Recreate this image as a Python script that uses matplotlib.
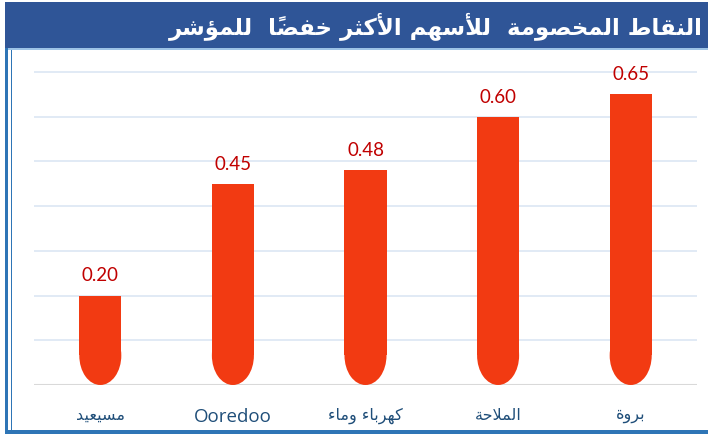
import matplotlib
matplotlib.use("Agg")
import matplotlib.pyplot as plt
from matplotlib.patches import Rectangle, Ellipse

# data
labels = ["مسيعيد", "Ooredoo", "كهرباء وماء", "الملاحة", "بروة"]
values = [0.20, 0.45, 0.48, 0.60, 0.65]
title = "النقاط المخصومة  للأسهم الأكثر خفضاً  للمؤشر"

BAR = "#F23A12"
VAL = "#C00000"
LBL = "#1F4E79"
BANNER = "#2F5597"
FRAME = "#2E75B6"
GRID = "#DCE6F4"

# minimal arabic shaping (matplotlib has no text shaping)
ISO = {'ء': 0xFE80, 'أ': 0xFE83, 'ؤ': 0xFE85, 'ا': 0xFE8D, 'ب': 0xFE8F, 'ة': 0xFE93,
       'ت': 0xFE95, 'ث': 0xFE99, 'ح': 0xFEA1, 'خ': 0xFEA5, 'د': 0xFEA9, 'ر': 0xFEAD,
       'س': 0xFEB1, 'ش': 0xFEB5, 'ص': 0xFEB9, 'ض': 0xFEBD, 'ط': 0xFEC1, 'ع': 0xFEC9,
       'ف': 0xFED1, 'ق': 0xFED5, 'ك': 0xFED9, 'ل': 0xFEDD, 'م': 0xFEE1, 'ن': 0xFEE5,
       'ه': 0xFEE9, 'و': 0xFEED, 'ي': 0xFEF1, 'لا': 0xFEFB, 'لأ': 0xFEF7}
RIGHT_ONLY = set('أؤادذرزوة') | {'لا', 'لأ'}
MARKS = set('\u064B\u064C\u064D\u064E\u064F\u0650\u0651\u0652')


def shape(s):
    if not any(c in ISO for c in s):
        return s
    toks = []
    i = 0
    while i < len(s):
        c = s[i]
        if c in MARKS and toks:
            toks[-1][1] += c
        elif c == 'ل' and i + 1 < len(s) and s[i + 1] in 'اأ':
            toks.append([c + s[i + 1], ''])
            i += 1
        else:
            toks.append([c, ''])
        i += 1

    def dual(t):
        return t in ISO and t not in RIGHT_ONLY and t != 'ء'

    def joinable(t):
        return t in ISO and t != 'ء'

    out = []
    for k, (t, m) in enumerate(toks):
        if t not in ISO:
            out.append(t + m)
            continue
        prev = k > 0 and dual(toks[k - 1][0]) and joinable(t)
        nxt = k + 1 < len(toks) and dual(t) and joinable(toks[k + 1][0])
        base = ISO[t]
        if t == 'ء':
            g = base
        elif prev and nxt:
            g = base + 3
        elif prev:
            g = base + 1
        elif nxt:
            g = base + 2
        else:
            g = base
        out.append(chr(g) + m)
    return ''.join(reversed(out))


W, H = 708, 434
fig = plt.figure(figsize=(W / 100, H / 100), dpi=100)


def px(x0, y0, x1, y1, **kw):
    fig.add_artist(Rectangle((x0 / W, 1 - y1 / H), (x1 - x0) / W, (y1 - y0) / H,
                             transform=fig.transFigure, zorder=-5, **kw))


# frame and banner
px(5, 2, 708, 48, facecolor=BANNER, edgecolor="none")
px(5, 48, 708, 50, facecolor="#9DC3E6", edgecolor="none")
px(5, 48, 7.5, 434, facecolor=FRAME, edgecolor="none")
px(10.5, 50, 12, 431, facecolor=FRAME, edgecolor="none")
px(5, 430, 708, 434, facecolor=FRAME, edgecolor="none")

fig.text(703 / W, 1 - 26 / H, shape(title), ha="right", va="center",
         color="white", fontsize=16.5, fontweight="bold", family="DejaVu Sans")

ax = fig.add_axes([34 / W, 49 / H, 663 / W, 322 / H])
ax.set_zorder(2)
ax.patch.set_visible(False)
ax.set_xlim(-0.5, len(values) - 0.5)
ax.set_ylim(0, 0.72)
for s in ax.spines.values():
    s.set_visible(False)
ax.set_yticks([0.1, 0.2, 0.3, 0.4, 0.5, 0.6, 0.7])
ax.yaxis.grid(True, color=GRID, linewidth=1.2)
ax.set_axisbelow(True)
ax.axhline(0, color="#D9D9D9", linewidth=1.5, zorder=1)
ax.tick_params(left=False, bottom=False, labelleft=False)

bw = 0.317
ry = 0.066
for i, v in enumerate(values):
    ax.add_patch(Rectangle((i - bw / 2, ry), bw, v - ry, facecolor=BAR,
                           edgecolor="none", zorder=2))
    ax.add_patch(Ellipse((i, ry), bw, 2 * ry, facecolor=BAR,
                         edgecolor="none", zorder=2))
    ax.annotate(f"{v:.2f}", (i, v), xytext=(0, 8), textcoords="offset points",
                ha="center", va="bottom", color=VAL, fontsize=13.5, family="Lato")

ax.set_xticks(range(len(labels)))
ax.set_xticklabels([shape(l) for l in labels], color=LBL, fontsize=11.5,
                   family="DejaVu Sans")
for t in ax.get_xticklabels():
    if t.get_text() == "Ooredoo":
        t.set_fontsize(13.5)
        t.set_family("Open Sans")
ax.tick_params(axis="x", pad=13)

fig.savefig("out.png", dpi=100)
